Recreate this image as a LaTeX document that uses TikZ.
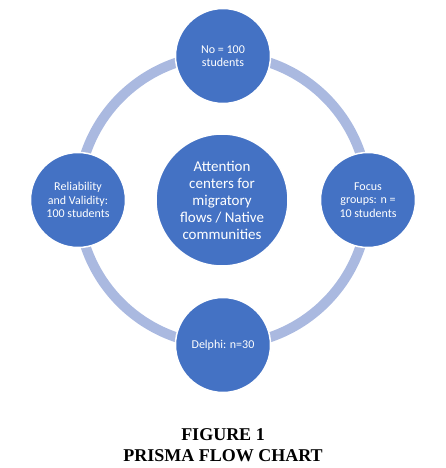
\documentclass[tikz,border=0pt]{standalone}
\usepackage{fontspec}
\setmainfont{Liberation Serif}
\newfontfamily\calib{Carlito}
\definecolor{ringc}{RGB}{170,185,224}
\definecolor{bubble}{RGB}{68,114,196}
\begin{document}
\begin{tikzpicture}[x=1pt,y=-1pt,
  bub/.style={circle,fill=bubble,draw=white,line width=1.5pt,text=white,align=center,inner sep=0pt,minimum size=95pt,font=\calib\fontsize{12}{13.5}\selectfont},
  bigbub/.style={bub,minimum size=132pt,font=\calib\fontsize{15}{17}\selectfont},
  ringline/.style={draw=ringc,line width=10pt},
  captext/.style={font=\bfseries\fontsize{18}{21}\selectfont,align=center}]
\useasboundingbox (0,0) rectangle (446,468);
\coordinate (o) at (223,200);
\draw[ringline] (o) circle (145);
\node[bub] (top) at (223,56) {No = 100\\students};
\node[bub] (left) at (78,200) {Reliability\\and Validity:\\100 students};
\node[bub] (right) at (368,200) {Focus\\groups: n =\\10 students};
\node[bub] (bot) at (223,345) {Delphi: n=30};
\node[bigbub] (mid) at (222,200) {Attention\\centers for\\migratory\\flows / Native\\communities};
\node[captext] (c1) at (223,435) {FIGURE 1};
\node[captext] (c2) at (223,456) {PRISMA FLOW CHART};
\end{tikzpicture}
\end{document}
